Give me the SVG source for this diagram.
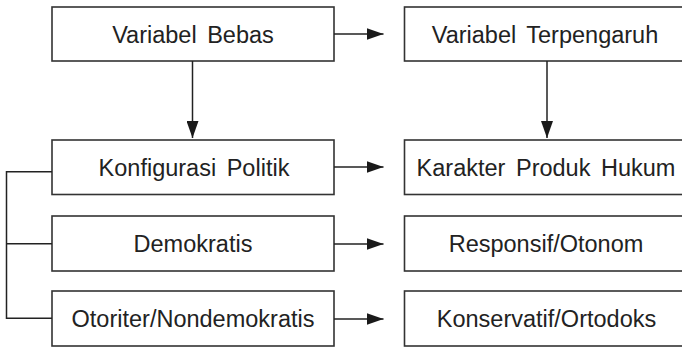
<svg xmlns="http://www.w3.org/2000/svg" width="682" height="347" viewBox="0 0 682 347">
<defs>
<style>
.box{fill:#fff;stroke:#333;stroke-width:1.6}
.lbl{font-family:"Liberation Sans",Arial,sans-serif;font-size:23.5px;fill:#222;text-anchor:middle;word-spacing:4px}
.ln{fill:none;stroke:#222;stroke-width:1.5}
</style>
<marker id="ah" markerUnits="userSpaceOnUse" markerWidth="17" markerHeight="12" refX="17" refY="6" orient="auto">
<path d="M0,0 L17,6 L0,12 z" fill="#1a1a1a"/>
</marker>
</defs>
<rect width="682" height="347" fill="#fff"/>
<g id="bebas"><rect class="box" x="52" y="7" width="282" height="54"/><text class="lbl" x="193" y="42.5">Variabel Bebas</text></g>
<g id="terpengaruh"><rect class="box" x="404.5" y="7" width="282" height="54"/><text class="lbl" x="545" y="42.5">Variabel Terpengaruh</text></g>
<g id="konfigurasi"><rect class="box" x="52" y="140" width="282" height="54.5"/><text class="lbl" x="194" y="175.5">Konfigurasi Politik</text></g>
<g id="karakter"><rect class="box" x="404.5" y="140" width="282" height="54.5"/><text class="lbl" x="546" y="175.5">Karakter Produk Hukum</text></g>
<g id="demokratis"><rect class="box" x="52" y="216" width="282" height="55"/><text class="lbl" x="193" y="252">Demokratis</text></g>
<g id="responsif"><rect class="box" x="404.5" y="216" width="282" height="55"/><text class="lbl" x="546" y="252">Responsif/Otonom</text></g>
<g id="otoriter"><rect class="box" x="52" y="291" width="282" height="55"/><text class="lbl" x="193" y="327">Otoriter/Nondemokratis</text></g>
<g id="konservatif"><rect class="box" x="404.5" y="291" width="282" height="55"/><text class="lbl" x="546.5" y="327">Konservatif/Ortodoks</text></g>
<g id="connectors">
<line class="ln" x1="334" y1="34" x2="383.5" y2="34" marker-end="url(#ah)"/>
<line class="ln" x1="334" y1="167" x2="383.5" y2="167" marker-end="url(#ah)"/>
<line class="ln" x1="334" y1="244" x2="383.5" y2="244" marker-end="url(#ah)"/>
<line class="ln" x1="334" y1="319" x2="383.5" y2="319" marker-end="url(#ah)"/>
<line class="ln" x1="192.5" y1="61" x2="192.5" y2="138" marker-end="url(#ah)"/>
<line class="ln" x1="547" y1="61" x2="547" y2="138" marker-end="url(#ah)"/>
<polyline class="ln" points="52,171.7 6.5,171.7 6.5,318.3 52,318.3"/>
<line class="ln" x1="6.5" y1="243.7" x2="52" y2="243.7"/>
</g>
</svg>
